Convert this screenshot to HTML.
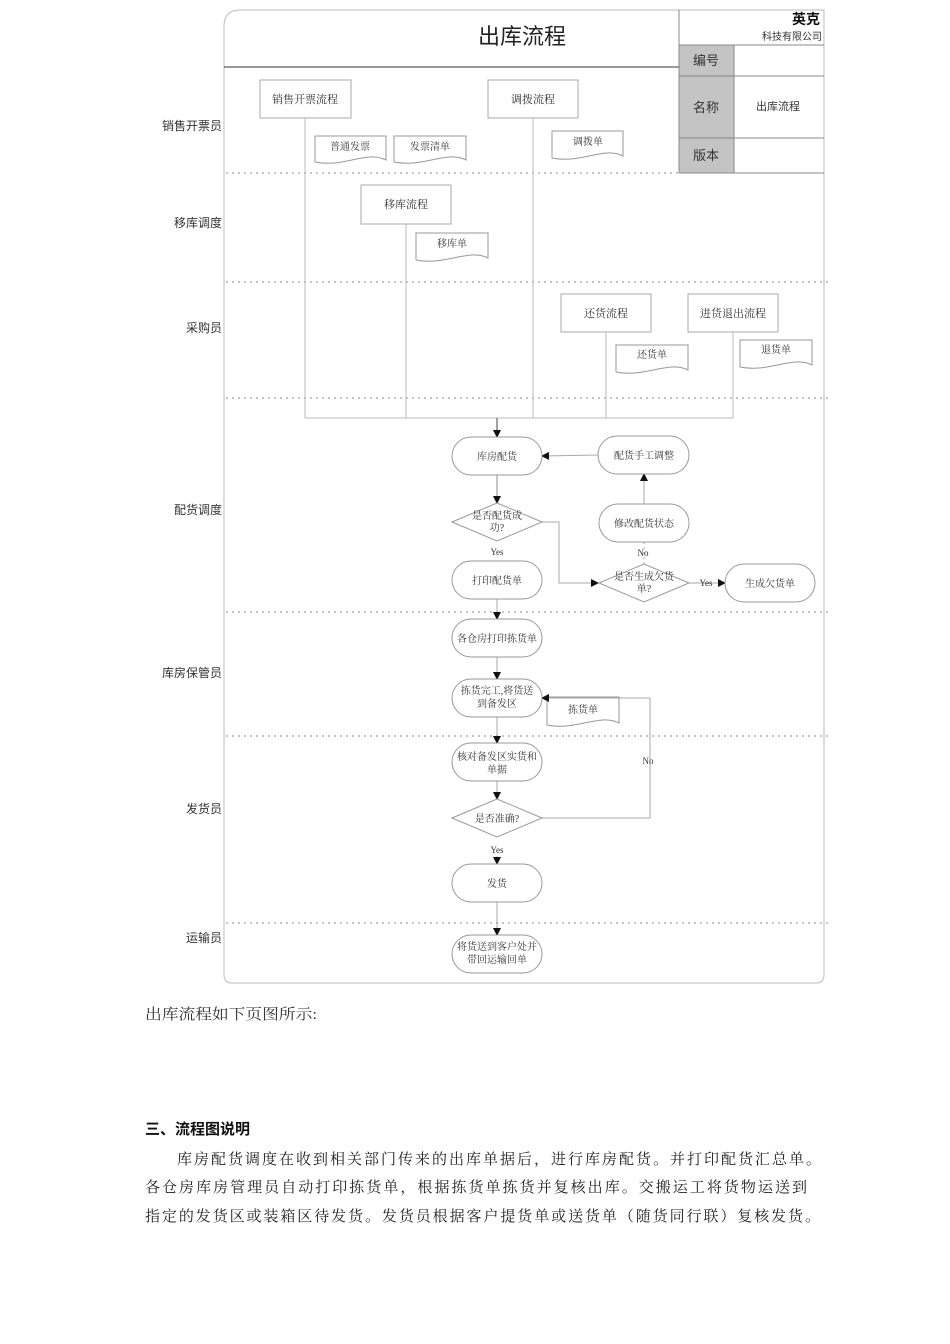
<!DOCTYPE html>
<html><head><meta charset="utf-8"><style>
html,body{margin:0;padding:0;background:#fff;width:950px;height:1344px;overflow:hidden}
svg text{font-family:"Liberation Serif","Noto Serif CJK SC",serif;fill:#333}
.s{font-family:"Liberation Sans","Noto Sans CJK SC",sans-serif}
</style></head><body>
<svg width="950" height="1344" viewBox="0 0 950 1344" xmlns="http://www.w3.org/2000/svg">
<defs><marker id="a" markerWidth="8" markerHeight="8" refX="7" refY="4" orient="auto" markerUnits="userSpaceOnUse"><path d="M0,0 L8,4 L0,8z" fill="#111"/></marker></defs>
<g fill="none" stroke="#bbb" stroke-width="1">
<path d="M240,10 H824 V975 Q824,983 816,983 H232 Q224,983 224,975 V26 Q224,10 240,10z"/>
</g>
<line x1="224" y1="67" x2="679" y2="67" stroke="#333"/>
<rect x="679" y="45" width="55" height="128" fill="#c4c4c4"/>
<g stroke="#888" fill="none">
<line x1="679" y1="10" x2="679" y2="173"/>
<line x1="679" y1="45" x2="824" y2="45"/>
<line x1="679" y1="76" x2="824" y2="76"/>
<line x1="679" y1="138" x2="824" y2="138"/>
<line x1="679" y1="173" x2="824" y2="173"/>
<line x1="734" y1="45" x2="734" y2="173"/>
</g>
<text x="522" y="44" font-size="22" text-anchor="middle" class="s" style="fill:#222">出库流程</text>
<text x="820" y="24" font-size="14" text-anchor="end" font-weight="bold" class="s" style="fill:#111">英克</text>
<text x="822" y="40" font-size="10" text-anchor="end" class="s">科技有限公司</text>
<text x="706" y="65" font-size="13" text-anchor="middle" class="s">编号</text>
<text x="706" y="112" font-size="13" text-anchor="middle" class="s">名称</text>
<text x="706" y="160" font-size="13" text-anchor="middle" class="s">版本</text>
<text x="778" y="110" font-size="11" text-anchor="middle" class="s">出库流程</text>
<g stroke="#888" stroke-dasharray="2,4">
<line x1="226" y1="173" x2="679" y2="173"/>
<line x1="226" y1="282" x2="830" y2="282"/>
<line x1="226" y1="398" x2="830" y2="398"/>
<line x1="226" y1="612" x2="830" y2="612"/>
<line x1="226" y1="736" x2="830" y2="736"/>
<line x1="226" y1="923" x2="830" y2="923"/>
</g>
<g font-size="12" text-anchor="end" class="s">
<text x="222" y="130" class="s">销售开票员</text>
<text x="222" y="227" class="s">移库调度</text>
<text x="222" y="332" class="s">采购员</text>
<text x="222" y="514" class="s">配货调度</text>
<text x="222" y="677" class="s">库房保管员</text>
<text x="222" y="813" class="s">发货员</text>
<text x="222" y="942" class="s">运输员</text>
</g>
<g stroke="#bbb" fill="none">
<line x1="305" y1="118" x2="305" y2="418"/>
<line x1="406" y1="224" x2="406" y2="418"/>
<line x1="533" y1="118" x2="533" y2="418"/>
<line x1="606" y1="332" x2="606" y2="418"/>
<line x1="733" y1="332" x2="733" y2="418"/>
<line x1="305" y1="418" x2="733" y2="418"/>
</g>
<g stroke="#aaa" fill="#fff">
<rect x="260" y="80" width="91" height="38"/>
<rect x="488" y="80" width="90" height="38"/>
<rect x="361" y="185" width="90" height="39"/>
<rect x="561" y="294" width="90" height="38"/>
<rect x="688" y="294" width="90" height="38"/>
</g>
<g font-size="11" text-anchor="middle">
<text x="305" y="103">销售开票流程</text>
<text x="533" y="103">调拨流程</text>
<text x="406" y="208">移库流程</text>
<text x="606" y="317">还货流程</text>
<text x="733" y="317">进货退出流程</text>
</g>
<g stroke="#999" fill="#fff">
<path d="M315,136 H386 V160 C366,150 345,168 315,162 Z"/>
<path d="M394,136 H466 V160 C446,150 424,168 394,162 Z"/>
<path d="M552,131 H623 V156 C603,146 582,164 552,158 Z"/>
<path d="M416,233 H488 V258 C468,248 446,266 416,260 Z"/>
<path d="M616,345 H688 V370 C668,360 646,378 616,372 Z"/>
<path d="M740,340 H812 V365 C792,355 770,373 740,367 Z"/>
<path d="M547,697 H619 V723 C599,713 577,731 547,725 Z"/>
</g>
<g font-size="10" text-anchor="middle">
<text x="350" y="150">普通发票</text>
<text x="430" y="150">发票清单</text>
<text x="588" y="145">调拨单</text>
<text x="452" y="247">移库单</text>
<text x="652" y="358">还货单</text>
<text x="776" y="353">退货单</text>
<text x="583" y="713">拣货单</text>
</g>
<g stroke="#aaa" fill="none" stroke-width="1">
<line x1="497" y1="418" x2="497" y2="437" stroke="#444" marker-end="url(#a)"/>
<line x1="497" y1="475" x2="497" y2="503" stroke="#888" marker-end="url(#a)"/>
<line x1="598" y1="455" x2="542" y2="456" marker-end="url(#a)"/>
<line x1="644" y1="504" x2="644" y2="474" marker-end="url(#a)"/>
<polyline points="542,522 559,522 559,583 598,583" marker-end="url(#a)"/>
<line x1="644" y1="564" x2="644" y2="542" stroke-dasharray="2,3"/>
<line x1="689" y1="583" x2="725" y2="583" marker-end="url(#a)"/>
<line x1="497" y1="599" x2="497" y2="619" marker-end="url(#a)"/>
<line x1="497" y1="657" x2="497" y2="679" marker-end="url(#a)"/>
<line x1="497" y1="717" x2="497" y2="743" marker-end="url(#a)"/>
<line x1="497" y1="781" x2="497" y2="799" marker-end="url(#a)"/>
<polyline points="542,818 650,818 650,698 542,698" marker-end="url(#a)"/>
<line x1="497" y1="856" x2="497" y2="864" marker-end="url(#a)"/>
<line x1="497" y1="902" x2="497" y2="935" marker-end="url(#a)"/>
</g>
<g stroke="#999" fill="#fff">
<rect x="452" y="437" width="90" height="38" rx="19"/>
<rect x="598" y="436" width="91" height="38" rx="19"/>
<rect x="599" y="504" width="90" height="38" rx="19"/>
<rect x="452" y="561" width="90" height="38" rx="19"/>
<rect x="725" y="564" width="90" height="38" rx="19"/>
<rect x="452" y="619" width="90" height="38" rx="19"/>
<rect x="452" y="679" width="90" height="38" rx="19"/>
<rect x="452" y="743" width="90" height="38" rx="19"/>
<rect x="452" y="864" width="90" height="38" rx="19"/>
<rect x="452" y="935" width="90" height="38" rx="19"/>
<path d="M452,522 L497,503 L542,522 L497,541 Z"/>
<path d="M599,583 L644,564 L689,583 L644,602 Z"/>
<path d="M452,818 L497,799 L542,818 L497,837 Z"/>
</g>
<g font-size="10" text-anchor="middle">
<text x="497" y="460">库房配货</text>
<text x="644" y="459">配货手工调整</text>
<text x="644" y="527">修改配货状态</text>
<text x="497" y="519">是否配货成</text>
<text x="497" y="531">功?</text>
<text x="497" y="584">打印配货单</text>
<text x="644" y="580">是否生成欠货</text>
<text x="644" y="592">单?</text>
<text x="770" y="587">生成欠货单</text>
<text x="497" y="642">各仓房打印拣货单</text>
<text x="497" y="694">拣货完工,将货送</text>
<text x="497" y="707">到备发区</text>
<text x="497" y="760">核对备发区实货和</text>
<text x="497" y="773">单据</text>
<text x="497" y="822">是否准确?</text>
<text x="497" y="887">发货</text>
<text x="497" y="950">将货送到客户处并</text>
<text x="497" y="963">带回运输回单</text>
<text x="497" y="555" font-size="9">Yes</text>
<text x="643" y="556" font-size="9">No</text>
<text x="706" y="586" font-size="9">Yes</text>
<text x="648" y="764" font-size="9">No</text>
<text x="497" y="853" font-size="9">Yes</text>
</g>
<g font-size="15">
<text x="145" y="1019" textLength="172" lengthAdjust="spacingAndGlyphs">出库流程如下页图所示:</text>
<text x="145" y="1134" font-weight="bold" class="s" style="fill:#111">三、流程图说明</text>
<text x="177" y="1164" style="fill:#222" textLength="644" lengthAdjust="spacing">库房配货调度在收到相关部门传来的出库单据后，进行库房配货。并打印配货汇总单。</text>
<text x="145" y="1192" style="fill:#222" textLength="662" lengthAdjust="spacing">各仓房库房管理员自动打印拣货单，根据拣货单拣货并复核出库。交搬运工将货物运送到</text>
<text x="145" y="1221" style="fill:#222" textLength="675" lengthAdjust="spacing">指定的发货区或装箱区待发货。发货员根据客户提货单或送货单（随货同行联）复核发货。</text>
</g>
</svg>
</body></html>
